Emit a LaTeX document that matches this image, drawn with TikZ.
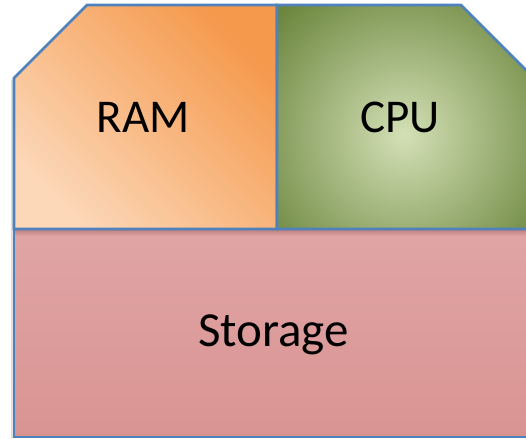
\documentclass[tikz,border=0pt]{standalone}
\usepackage{fontspec}
\setmainfont{Carlito}
\usetikzlibrary{calc}

\definecolor{edgeblue}{HTML}{4F81BD}
\definecolor{ramdark}{HTML}{F5994C}
\definecolor{ramlight}{HTML}{FCD7B8}
\definecolor{cpudark}{HTML}{5F7B2F}
\definecolor{cpulight}{HTML}{D3E0B6}
\definecolor{storetop}{HTML}{E0A5A5}
\definecolor{storebot}{HTML}{D99492}

\tikzset{
  part/.style={draw=edgeblue, line width=1.4pt, line join=miter},
  lbl/.style={font=\fontsize{23.5}{28}\selectfont, text=black, anchor=base},
}

\begin{document}
\begin{tikzpicture}[x=0.5pt,y=-0.5pt]
  \useasboundingbox (0,0) rectangle (526,439);
  \clip (0,0) rectangle (526,439);

  % corner points of the board
  \coordinate (tl) at (14,78);
  \coordinate (tt) at (87,5);
  \coordinate (mt) at (277,5);
  \coordinate (tr) at (461,5);
  \coordinate (rr) at (533,77);
  \coordinate (ml) at (14,229);
  \coordinate (mm) at (277,229);
  \coordinate (mr) at (533,229);
  \coordinate (bl) at (14,437);
  \coordinate (br) at (533,437);

  % faint shadow on the left
  \fill[black, opacity=.12] ($(tl)+(-3,2)$) -- ($(bl)+(-3,2)$) -- (bl) -- (tl) -- cycle;

  % storage
  \fill[top color=storetop, bottom color=storebot] (ml) rectangle (br);
  \fill[top color=storebot!85!black, bottom color=storetop] (ml) rectangle ($(mr)+(0,7)$);
  \draw[part] (ml) rectangle (br);

  % ram
  \fill[top color=ramdark, bottom color=ramlight, shading angle=-45]
    (ml) -- (tl) -- (tt) -- (mt) -- (mm) -- cycle;
  \draw[part] (ml) -- (tl) -- (tt) -- (mt) -- (mm) -- cycle;

  % cpu
  \begin{scope}
    \clip (mm) -- (mt) -- (tr) -- (rr) -- (mr) -- cycle;
    \fill[cpudark] (mm) -- (mt) -- (tr) -- (rr) -- (mr) -- cycle;
    \fill[inner color=cpulight, outer color=cpudark] (404,135) circle (195);
  \end{scope}
  \draw[part] (mm) -- (mt) -- (tr) -- (rr) -- (mr) -- cycle;

  \node[lbl] (ram) at (143,133) {RAM};
  \node[lbl] (cpu) at (400,133) {CPU};
  \node[lbl, font=\fontsize{24.5}{29}\selectfont] (storage) at (273.5,346.5) {Storage};
\end{tikzpicture}
\end{document}
